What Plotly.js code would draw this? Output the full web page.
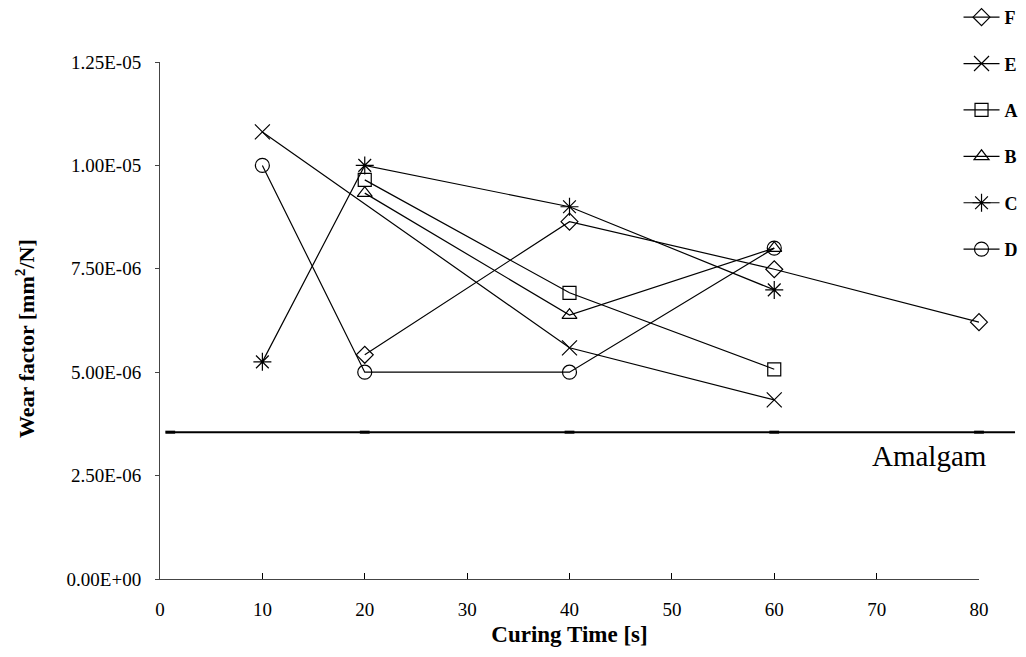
<!DOCTYPE html>
<html>
<head>
<meta charset="utf-8">
<script src="https://cdn.plot.ly/plotly-3.0.1.min.js"></script>
<style>html,body{margin:0;padding:0;background:#fff;}#chart{width:1026px;height:657px;}</style>
</head>
<body>
<div id="chart"></div>
<script>
// Data
const seriesNames = ['F', 'E', 'A', 'B', 'C', 'D'];
const xF = [20, 40, 60, 80];
const yF = [5.42e-6, 8.64e-6, 7.49e-6, 6.21e-6];
const xE = [10, 40, 60];
const yE = [1.081e-5, 5.59e-6, 4.33e-6];
const xA = [20, 40, 60];
const yA = [9.65e-6, 6.92e-6, 5.07e-6];
const xB = [20, 40, 60];
const yB = [9.33e-6, 6.38e-6, 8.0e-6];
const xC = [10, 20, 40, 60];
const yC = [5.25e-6, 1.0e-5, 9.0e-6, 6.99e-6];
const xD = [10, 20, 40, 60];
const yD = [1.0e-5, 5.0e-6, 5.0e-6, 8.0e-6];
const amalgamValue = 3.55e-6;
const amalgamMarksX = [1, 20, 40, 60, 80];
const yTickVals = [0, 2.5e-6, 5e-6, 7.5e-6, 1e-5, 1.25e-5];
const yTickText = ['0.00E+00', '2.50E-06', '5.00E-06', '7.50E-06', '1.00E-05', '1.25E-05'];
const xTickVals = [0, 10, 20, 30, 40, 50, 60, 70, 80];

const symbols = {F: 'diamond-open', E: 'x-thin-open', A: 'square-open', B: 'triangle-up-open', C: 'asterisk-open', D: 'circle-open'};
const sizes = {F: 13, E: 15, A: 13, B: 13, C: 15, D: 14};
const xs = {F: xF, E: xE, A: xA, B: xB, C: xC, D: xD};
const ys = {F: yF, E: yE, A: yA, B: yB, C: yC, D: yD};

const traces = seriesNames.map((n, i) => ({
  type: 'scatter', mode: 'lines+markers', name: n,
  x: xs[n], y: ys[n],
  legendgroup: 'g' + i,
  line: {color: '#000', width: 1.2},
  marker: {symbol: symbols[n], size: sizes[n], color: '#000', line: {color: '#000', width: 1.2}},
  cliponaxis: false
}));

traces.push({
  type: 'scatter', mode: 'markers', name: 'Amalgam', showlegend: false,
  x: amalgamMarksX, y: amalgamMarksX.map(() => amalgamValue),
  marker: {symbol: 'line-ew-open', size: 7, color: '#000', line: {color: '#000', width: 3}},
  cliponaxis: false, hoverinfo: 'skip'
});

const serif = 'Liberation Serif, Times New Roman, serif';

const layout = {
  width: 1026, height: 657,
  margin: {l: 160, r: 47, t: 62, b: 78, autoexpand: false},
  paper_bgcolor: '#fff', plot_bgcolor: '#fff',
  font: {family: serif, color: '#000', size: 17},
  showlegend: true,
  legend: {
    x: 0.975, xanchor: 'left', y: 1.122, yanchor: 'top',
    font: {family: serif, size: 18, weight: 'bold', color: '#000'},
    traceorder: 'grouped', tracegroupgap: 20, itemwidth: 36,
    bgcolor: 'rgba(0,0,0,0)', borderwidth: 0
  },
  xaxis: {
    range: [0, 80], tickvals: xTickVals, ticks: 'inside', ticklen: 6,
    tickcolor: '#000', showline: true, linecolor: '#444', linewidth: 1,
    showgrid: false, zeroline: false, ticklabelstandoff: 13,
    tickfont: {family: serif, size: 19, color: '#000'},
    title: {text: 'Curing Time [s]', font: {family: serif, size: 23, weight: 'bold', color: '#000'}, standoff: 7}
  },
  yaxis: {
    range: [0, 1.25e-5], tickvals: yTickVals, ticktext: yTickText,
    ticks: 'outside', ticklen: 4, tickcolor: '#444',
    showline: true, linecolor: '#444', linewidth: 1,
    showgrid: false, zeroline: false, ticklabelstandoff: 10,
    tickfont: {family: serif, size: 19, color: '#000'}
  },
  shapes: [{
    type: 'line', xref: 'paper', yref: 'y',
    x0: 0.0073, x1: 1.044, y0: amalgamValue, y1: amalgamValue,
    line: {color: '#000', width: 2}
  }],
  annotations: [{
    text: 'Amalgam', xref: 'paper', yref: 'y', x: 0.94, y: amalgamValue,
    yshift: -24, showarrow: false, xanchor: 'center', yanchor: 'middle',
    font: {family: serif, size: 29, color: '#000'}
  }, {
    text: 'Wear factor [mm<sup>2</sup>/N]', xref: 'paper', yref: 'paper',
    x: -0.165, y: 0.466, textangle: -90, showarrow: false,
    xanchor: 'center', yanchor: 'middle',
    font: {family: serif, size: 22, weight: 'bold', color: '#000'}
  }]
};

Plotly.newPlot('chart', traces, layout, {displayModeBar: false, staticPlot: true});
</script>
</body>
</html>
